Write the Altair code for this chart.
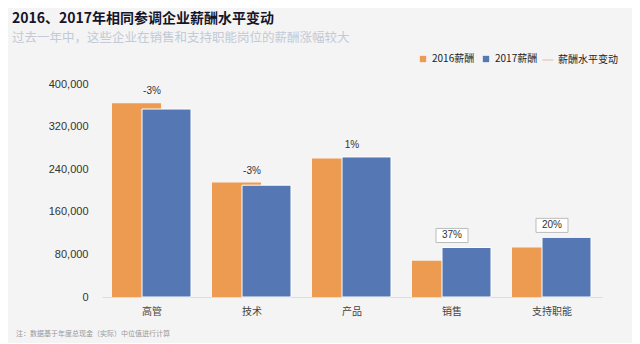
import altair as alt
import pandas as pd

categories = ["高管", "技术", "产品", "销售", "支持职能"]
pay_2016 = [364000, 215000, 260000, 68000, 93000]
pay_2017 = [353000, 210000, 263000, 93000, 112000]
change_labels = ["-3%", "-3%", "1%", "37%", "20%"]
boxed = [False, False, False, True, True]

df = pd.DataFrame({
    "cat": categories,
    "v2016": pay_2016,
    "v2017": pay_2017,
    "label": change_labels,
    "boxed": boxed,
})
df["top"] = df[["v2016", "v2017"]].max(axis=1)

ORANGE = "#EE9B52"
BLUE = "#5578B4"
FONT = "Noto Sans CJK SC"

xenc = alt.X("cat:N", sort=categories,
             scale=alt.Scale(paddingInner=0, paddingOuter=0),
             axis=alt.Axis(title=None, labelAngle=0, ticks=False, domain=True,
                           domainColor="#DDDDDD", labelPadding=9,
                           labelFontSize=10, labelColor="#444444", labelFont=FONT))
yscale = alt.Scale(domain=[0, 400000])

color_scale = alt.Scale(domain=["2016薪酬", "2017薪酬"], range=[ORANGE, BLUE])
color_legend = alt.Legend(title=None, orient="none", legendX=316, legendY=-30,
                          direction="horizontal", symbolType="square", symbolSize=40,
                          labelFontSize=10, labelFont=FONT, labelColor="#222222",
                          columnPadding=6, symbolStrokeWidth=0)

bars16 = alt.Chart(df).transform_calculate(series="'2016薪酬'").mark_bar(
    width=49, xOffset=-15.5).encode(
    x=xenc,
    y=alt.Y("v2016:Q", scale=yscale,
            axis=alt.Axis(title=None, values=[0, 80000, 160000, 240000, 320000, 400000],
                          format=",d", ticks=False, domain=False, grid=False,
                          labelPadding=14, labelFontSize=11, labelColor="#333333",
                          labelFont="Liberation Sans")),
    color=alt.Color("series:N", scale=color_scale, legend=color_legend),
)

bars17 = alt.Chart(df).transform_calculate(series="'2017薪酬'").mark_bar(
    width=49, xOffset=14.5, stroke="white", strokeWidth=1).encode(
    x=xenc,
    y=alt.Y("v2017:Q", scale=yscale),
    color=alt.Color("series:N", scale=color_scale, legend=color_legend),
)

line_legend = alt.Legend(title=None, orient="none", legendX=440, legendY=-30,
                         symbolType="stroke", symbolStrokeWidth=1, symbolSize=120,
                         labelFontSize=10, labelFont=FONT, labelColor="#222222")
line = alt.Chart(df).transform_calculate(lser="'薪酬水平变动'").mark_line(clip=True).encode(
    x=xenc,
    y=alt.value(-60),
    stroke=alt.Stroke("lser:N", scale=alt.Scale(range=["#E6B8BC"]), legend=line_legend),
)

box_path = "M-1,-0.44L1,-0.44L1,0.44L-1,0.44Z"
boxes = alt.Chart(df).transform_filter("datum.boxed").mark_point(
    shape=box_path, size=1024, filled=True, fill="white", stroke="#BBBBBB",
    strokeWidth=1, opacity=1, yOffset=-12
).encode(x=xenc, y=alt.Y("top:Q", scale=yscale))

labels = alt.Chart(df).mark_text(fontSize=10, color="#333333", baseline="middle",
                                 yOffset=-12, font="Liberation Sans").encode(
    x=xenc, y=alt.Y("top:Q", scale=yscale), text="label:N")

footnote = alt.Chart(df).transform_filter("datum.cat == '高管'").mark_text(
    text="注：数据基于年度总现金（实际）中位值进行计算", fontSize=7, color="#999999",
    align="left", baseline="middle", font=FONT
).encode(x=alt.value(-86), y=alt.value(250))

chart = alt.layer(bars16, bars17, line, boxes, labels, footnote).resolve_scale(
    color="shared", stroke="independent"
).properties(
    width=500, height=213,
    padding={"left": 94, "top": 76, "right": 30, "bottom": 46},
    autosize=alt.AutoSizeParams(type="none"),
    background="#F4F4F4",
    title=alt.TitleParams(
        text="2016、2017年相同参调企业薪酬水平变动",
        subtitle="过去一年中，这些企业在销售和支持职能岗位的薪酬涨幅较大",
        anchor="start", frame="group", dx=-90, offset=10,
        font=FONT, fontSize=14, fontWeight="bold", color="#14142A",
        subtitleFont=FONT, subtitleFontSize=12.5, subtitleColor="#C3CAD6",
        subtitlePadding=6,
    ),
).configure_view(stroke=None)

chart.save("out.html", embed_options={"renderer": "svg", "actions": False})
